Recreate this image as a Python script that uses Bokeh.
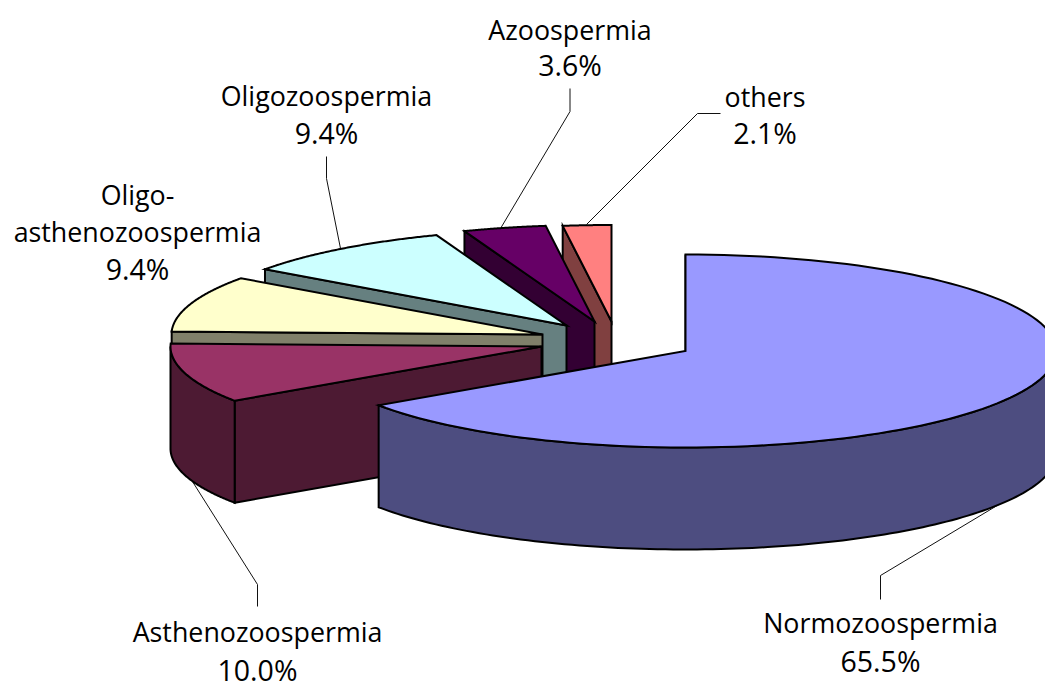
import numpy as np
from bokeh.plotting import figure
from bokeh.models import Range1d
from bokeh.core.properties import value
from bokeh.embed import file_html
from bokeh.resources import INLINE

names = ["Normozoospermia", "Asthenozoospermia", "Oligo-asthenozoospermia", "Oligozoospermia", "Azoospermia", "others"]
shares = [65.5, 10.0, 9.4, 9.4, 3.6, 2.1]
pct_labels = ["65.5%", "10.0%", "9.4%", "9.4%", "3.6%", "2.1%"]

# styling and layout
top_colors = ["#9999FF", "#993366", "#FFFFCC", "#CCFFFF", "#660066", "#FF8080"]
side_colors = ["#4D4D80", "#4D1A33", "#80806A", "#668080", "#330033", "#804040"]
apex_x = [685, 541, 542, 566, 594, 611]
apex_y = [350.5, 346, 334, 325, 321, 321]
RX, RY, DEPTH = 371, 96.5, 102
FONT = "Open Sans"
FS = "26.8px"
FS_PCT = "28.5px"
LIFT = 9

text_rows = [
    ("Azoospermia", 569.5, 37.5, FS), ("3.6%", 569.5, 73.5, FS_PCT),
    ("others", 764.5, 104.5, FS), ("2.1%", 764.5, 141, FS_PCT),
    ("Oligozoospermia", 326, 104, FS), ("9.4%", 326, 141, FS_PCT),
    ("Oligo-", 137, 203, FS), ("asthenozoospermia", 137, 240, FS), ("9.4%", 137, 277, FS_PCT),
    ("Asthenozoospermia", 257, 640, FS), ("10.0%", 257, 678, FS_PCT),
    ("Normozoospermia", 880, 631, FS), ("65.5%", 880, 669, FS_PCT),
]
leaders = [
    ([569.5, 569.5, 500], [88, 111, 228]),
    ([720, 697, 586], [113, 113, 224]),
    ([326, 326, 340], [156, 178, 248]),
    ([257, 257, 185], [606, 584, 470]),
    ([880, 880, 1000], [599, 575, 503]),
]

p = figure(width=1045, height=683, output_backend="svg", toolbar_location=None,
           x_axis_location=None, y_axis_location=None, min_border=0,
           x_range=Range1d(0, 1045), y_range=Range1d(683, 0))
p.grid.visible = False
p.outline_line_color = None
p.background_fill_color = "white"

for xs, ys in leaders:
    p.line(xs, ys, line_color="#111111", line_width=1)

cum = np.cumsum([0] + shares) / sum(shares) * 2 * np.pi


def rim(cx, cy, a, b, n=120):
    t = np.linspace(a, b, n)
    return cx + RX * np.sin(t), cy - RY * np.cos(t)


style = dict(line_color="black", line_width=2, line_join="miter")

# Back to front: last slice first
for i in range(len(shares) - 1, -1, -1):
    a, b = cum[i], cum[i + 1]
    cx, cy = apex_x[i], apex_y[i]
    # cut face at the slice's start angle
    ox, oy = rim(cx, cy, a, a, 1)
    p.patch([ox[0], cx, cx, ox[0]], [oy[0], cy, cy + DEPTH, oy[0] + DEPTH],
            fill_color=side_colors[i], **style)
    # outer wall on the front half of the rim
    lo, hi = max(a, np.pi / 2), min(b, 3 * np.pi / 2)
    if hi > lo:
        x1, y1 = rim(cx, cy, lo, hi)
        p.patch(np.r_[x1, x1[::-1]], np.r_[y1, y1[::-1] + DEPTH],
                fill_color=side_colors[i], **style)
    # top face
    x2, y2 = rim(cx, cy, a, b)
    p.patch(np.r_[cx, x2], np.r_[cy, y2], fill_color=top_colors[i], **style)

for t, x, y, fs in text_rows:
    p.text([x], [y - LIFT], text=[t], text_font=value(FONT), text_font_size=value(fs),
           text_color="black", text_align="center", text_baseline="alphabetic")

open("out.html", "w").write(file_html(p, INLINE))
